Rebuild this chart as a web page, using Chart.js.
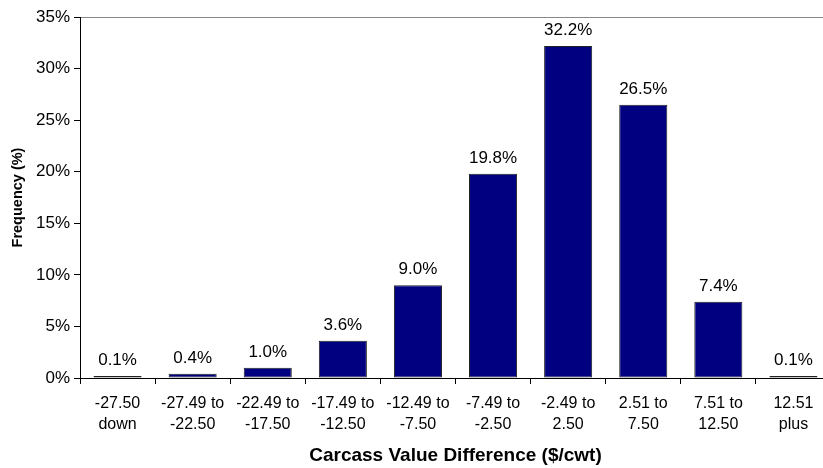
<!DOCTYPE html>
<html>
<head>
<meta charset="utf-8">
<script src="https://cdn.jsdelivr.net/npm/chart.js@4"></script>
<style>
  html, body { margin: 0; padding: 0; background: #fff; overflow: hidden; }
  #wrap { width: 831px; height: 468px; }
</style>
</head>
<body>
<div id="wrap"><canvas id="carcassChart" width="831" height="468"></canvas></div>
<script>
// Carcass value difference distribution
const bins = [
    ["-27.50", "down"], ["-27.49 to", "-22.50"], ["-22.49 to", "-17.50"], ["-17.49 to", "-12.50"],
    ["-12.49 to", "-7.50"], ["-7.49 to", "-2.50"], ["-2.49 to", "2.50"], ["2.51 to", "7.50"],
    ["7.51 to", "12.50"], ["12.51", "plus"]
];
const frequency = [0.1, 0.4, 1.0, 3.6, 9.0, 19.8, 32.2, 26.5, 7.4, 0.1];

const FONT = "'Liberation Sans', Arial, sans-serif";

// value labels above each bar
const barLabels = {
    id: "barLabels",
    afterDatasetsDraw(chart) {
        const c = chart.ctx;
        c.save();
        c.font = "17px " + FONT;
        c.fillStyle = "#000";
        c.textAlign = "center";
        c.textBaseline = "bottom";
        chart.getDatasetMeta(0).data.forEach((bar, i) => {
            c.fillText(frequency[i].toFixed(1) + "%", bar.x, bar.y - 7);
        });
        c.restore();
    }
};

new Chart(document.getElementById("carcassChart"), {
    type: "bar",
    data: {
        labels: bins,
        datasets: [{
            data: frequency,
            backgroundColor: "#000080",
            borderColor: "#222",
            borderWidth: 1,
            borderSkipped: false,
            minBarLength: 2,
            barPercentage: 0.64,
            categoryPercentage: 1
        }]
    },
    options: {
        responsive: false,
        animation: false,
        layout: { padding: { top: 17, right: 0, left: 0, bottom: 0 } },
        plugins: { legend: { display: false }, tooltip: { enabled: false } },
        scales: {
            x: {
                afterFit: (s) => { s.height = 90; s.paddingLeft = 0; s.paddingRight = 0; },
                grid: { offset: true, drawOnChartArea: false, tickLength: 6, tickColor: "#000" },
                border: { color: "#000", width: 1 },
                ticks: { color: "#000", font: { size: 16, family: FONT, lineHeight: 1.3 }, maxRotation: 0, padding: 9 },
                title: { display: true, text: "Carcass Value Difference ($/cwt)", color: "#000",
                         font: { size: 19, weight: "bold", family: FONT }, padding: { top: 0, bottom: 1 } }
            },
            y: {
                min: 0, max: 35,
                afterFit: (s) => { s.width = 80; s.paddingTop = 0; s.paddingBottom = 0; },
                grid: {
                    color: (ctx) => ctx.tick && ctx.tick.value === 35 ? "#888" : "transparent",
                    tickColor: "#000", tickLength: 6
                },
                border: { color: "#000", width: 1 },
                ticks: { stepSize: 5, color: "#000", font: { size: 17, family: FONT }, padding: 4,
                         callback: (v) => v + "%" },
                title: { display: true, text: "Frequency (%)", color: "#000",
                         font: { size: 14.5, weight: "bold", family: FONT }, padding: { top: 9, bottom: 0 } }
            }
        }
    },
    plugins: [barLabels]
});
</script>
</body>
</html>
